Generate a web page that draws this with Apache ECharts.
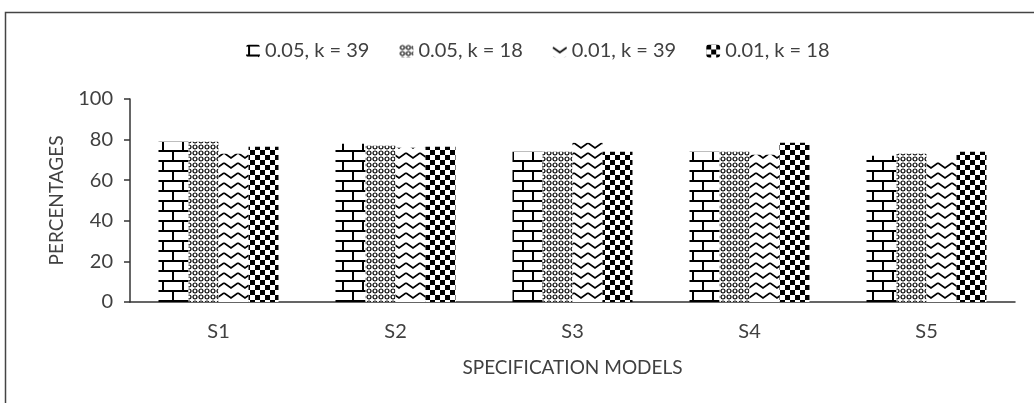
<!DOCTYPE html>
<html>
<head>
<meta charset="utf-8">
<script src="https://cdn.jsdelivr.net/npm/echarts@6/dist/echarts.min.js"></script>
<style>
  html, body { margin: 0; padding: 0; background: #fff; }
  #chart { width: 1034px; height: 403px; }
</style>
</head>
<body>
<div id="chart"></div>
<script>
const categories = ['S1', 'S2', 'S3', 'S4', 'S5'];
const seriesNames = ['0.05, k = 39', '0.05, k = 18', '0.01, k = 39', '0.01, k = 18'];
const p05k39 = [79, 78, 74, 74, 72];
const p05k18 = [79, 77, 74, 74, 73];
const p01k39 = [73, 76, 78.5, 72.5, 69];
const p01k18 = [76.5, 76.5, 74, 78.5, 74];
const yTicks = [0, 20, 40, 60, 80, 100];

// little canvas tiles for the black & white fills
const makeTile = (w, h, draw) => {
  const c = document.createElement('canvas');
  c.width = w;
  c.height = h;
  const ctx = c.getContext('2d');
  ctx.fillStyle = '#fff';
  ctx.fillRect(0, 0, w, h);
  ctx.fillStyle = '#000';
  ctx.strokeStyle = '#000';
  draw(ctx);
  return { image: c, repeat: 'repeat' };
};

const brick = makeTile(20, 20, (ctx) => {
  ctx.fillRect(0, 0, 20, 2);
  ctx.fillRect(0, 10, 20, 2);
  ctx.fillRect(2, 0, 2, 10);
  ctx.fillRect(12, 10, 2, 10);
});

const rings = makeTile(6, 6, (ctx) => {
  ctx.lineWidth = 1.2;
  ctx.beginPath();
  ctx.arc(3, 3, 2, 0, Math.PI * 2);
  ctx.stroke();
});

const wave = makeTile(14, 10, (ctx) => {
  ctx.lineWidth = 1.8;
  ctx.beginPath();
  ctx.moveTo(0, 3);
  ctx.lineTo(7, 8);
  ctx.lineTo(14, 3);
  ctx.stroke();
});

const checker = makeTile(10, 10, (ctx) => {
  ctx.fillRect(0, 0, 5, 5);
  ctx.fillRect(5, 5, 5, 5);
});

const fills = [brick, rings, wave, checker];
const values = [p05k39, p05k18, p01k39, p01k18];
const font = 'Lato';
const ink = '#404040';

const chart = echarts.init(document.getElementById('chart'));
const option = {
  animation: false,
  backgroundColor: '#fff',
  textStyle: { fontFamily: font },
  graphic: [{
    type: 'rect',
    shape: { x: 5.5, y: 12.5, width: 1100, height: 500 },
    style: { fill: 'none', stroke: '#444', lineWidth: 1.5 },
    silent: true
  }],
  legend: {
    top: 36,
    left: 241,
    itemWidth: 14,
    itemHeight: 13,
    itemGap: 30,
    textStyle: { fontSize: 20, color: ink, fontFamily: font },
    data: seriesNames
  },
  grid: { left: 130, right: 19, top: 99, bottom: 101 },
  xAxis: {
    type: 'category',
    data: categories,
    name: 'SPECIFICATION MODELS',
    nameLocation: 'middle',
    nameGap: 56,
    nameTextStyle: { fontSize: 19, color: ink, fontFamily: font },
    axisLine: { lineStyle: { color: '#333', width: 1.5 } },
    axisTick: { show: false },
    axisLabel: { fontSize: 20, color: ink, margin: 20 }
  },
  yAxis: {
    type: 'value',
    min: yTicks[0],
    max: yTicks[yTicks.length - 1],
    interval: 20,
    name: 'PERCENTAGES',
    nameLocation: 'middle',
    nameGap: 64,
    nameTextStyle: { fontSize: 19, color: ink, fontFamily: font },
    axisLine: { show: true, lineStyle: { color: '#333', width: 1.5 } },
    axisTick: { show: true, length: 6, lineStyle: { color: '#333', width: 1.5 } },
    axisLabel: { fontSize: 20, color: ink, margin: 17 },
    splitLine: { show: false }
  },
  series: seriesNames.map((name, i) => ({
    name,
    type: 'bar',
    barWidth: 30,
    barGap: '0%',
    itemStyle: { color: fills[i] },
    data: values[i]
  }))
};
chart.setOption(option);
</script>
</body>
</html>
